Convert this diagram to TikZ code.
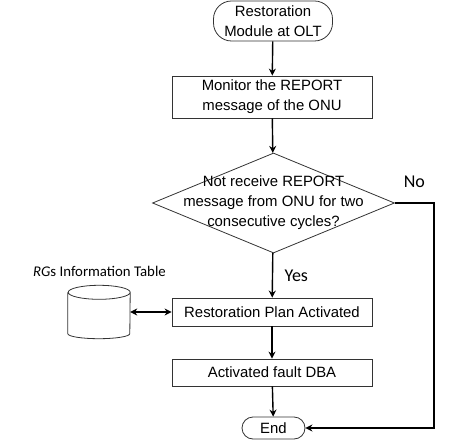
\documentclass[tikz,border=0pt]{standalone}
\usepackage{fontspec}
\setmainfont{Liberation Sans}
\newfontfamily\carlito{Carlito}
\usetikzlibrary{shapes.geometric,arrows.meta}

\begin{document}
\begin{tikzpicture}
    [ x=1bp, y=-1bp
    , every node/.style={font=\fontsize{14.9bp}{20bp}\selectfont, align=center}
    , box/.style={draw=black!80, line width=0.8bp, minimum width=200bp, inner sep=0pt}
    , terminal/.style={box, rounded corners=18bp}
    , decision/.style={diamond, draw=black!80, line width=0.8bp, minimum width=242bp, minimum height=100bp, inner sep=0pt}
    , flow/.style={->, line width=1.4bp}
    , answer/.style={font=\carlito\fontsize{18bp}{20bp}\selectfont}
    , >={Stealth[length=7bp, width=7bp]}
    ]

    \useasboundingbox (0,0) rectangle (459,440);

    \path (273,21)    node (start)   [terminal, minimum width=119bp, minimum height=40bp] {Restoration\\Module at OLT};
    \path (272,97)    node (monitor) [box, minimum height=42bp] {Monitor the REPORT\\message of the ONU};
    \path (273.5,203) node (check)   [decision] {};
    \path (check)     node (question) {Not receive REPORT\\message from ONU for two\\consecutive cycles?};
    \path (272,312)   node (plan)    [box, minimum height=28bp] {Restoration Plan Activated};
    \path (272,372.5) node (fault)   [box, minimum height=27bp] {Activated fault DBA};
    \path (273.5,428) node (done)    [terminal, minimum width=63bp, minimum height=22bp, rounded corners=11bp] {End};

    % database of the RGs
    \path (99,312)    node (table) [minimum width=62bp, minimum height=53bp, inner sep=0pt] {};
    \path (99.5,271)  node (tablename) [font=\carlito\fontsize{14.8bp}{16bp}\selectfont] {\textit{RG}s Information Table};
    \draw [black!80, line width=0.8bp]
        ([yshift=-7bp]table.north west) -- ([yshift=5bp]table.south west)
        arc (180:360:31bp and 5bp) -- ([yshift=-7bp]table.north east)
        arc (0:180:31bp and 7bp) arc (180:360:31bp and 7bp);

    \draw [flow] (start) -- (monitor);
    \draw [flow] (monitor) -- (check);
    \draw [flow] (check) -- node [answer, right=8bp] {Yes} (plan);
    \draw [flow] (plan) -- (fault);
    \draw [flow] (fault) -- (done);
    \draw [flow, <->] (table) -- (plan);
    \draw [flow] (check.east) -- node [answer, above=11bp] {No} ++(39,0) |- (done);
  \end{tikzpicture}
\end{document}
